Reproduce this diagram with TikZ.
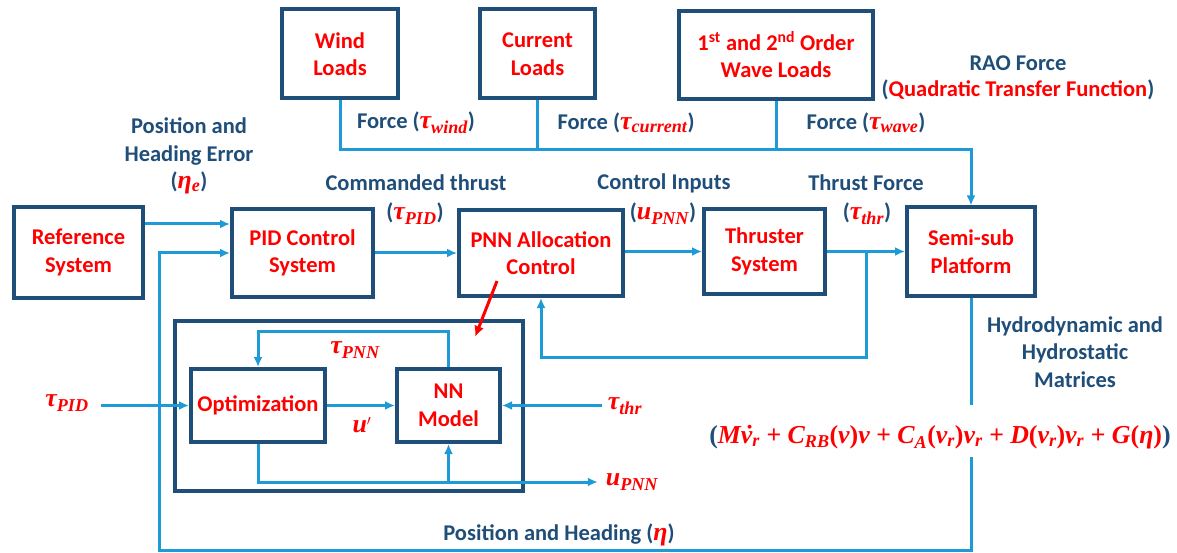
\documentclass[tikz,border=0pt]{standalone}
\usepackage{fontspec}
\setmainfont{Carlito}
\newfontfamily\mfont{Liberation Serif}[Scale=1.15]
\usetikzlibrary{arrows.meta,calc}
\definecolor{dkblue}{RGB}{31,78,121}
\definecolor{ltblue}{RGB}{30,155,215}
\definecolor{rd}{RGB}{255,0,0}
\newcommand{\redt}[1]{\textcolor{rd}{#1}}
\newcommand{\mvar}[1]{{\mfont\bfseries\itshape #1}}
\newcommand{\msub}[2]{{\mfont\bfseries\itshape #1\textsubscript{#2}}}
\newcommand{\Lpar}{{\mfont\bfseries\upshape(}}
\newcommand{\Rpar}{{\mfont\bfseries\upshape)}}
\newcommand{\dnu}{\ooalign{ν\cr\hidewidth\kern0.12em˙\hidewidth\cr}}
\begin{document}
\begin{tikzpicture}[x=1pt,y=-1pt,
  every node/.style={font=\fontsize{22.5}{27.5}\selectfont\bfseries},
  box/.style={draw=dkblue, line width=4pt, text=rd, align=center, inner sep=0pt},
  lbl/.style={text=dkblue, align=center, inner sep=0pt},
  mth/.style={text=rd, inner sep=0pt},
  ln/.style={draw=ltblue, line width=3pt},
  arr/.style={ln, -{Latex[length=10pt,width=9pt]}},
  redarr/.style={draw=rd, line width=3pt, -{Latex[length=11pt,width=10pt]}}
]
\useasboundingbox (0,0) rectangle (1177,553);

% top boxes
\node[box, minimum width=116pt, minimum height=89pt] (wind) at (340,54) {Wind\\Loads};
\node[box, minimum width=115pt, minimum height=89pt] (current) at (537.5,54) {Current\\Loads};
\node[box, minimum width=194pt, minimum height=88pt] (wave) at (776,55) {1\textsuperscript{st} and 2\textsuperscript{nd} Order\\Wave Loads};

% main row
\node[box, minimum width=129pt, minimum height=91pt] (ref) at (78.5,252.5) {Reference\\System};
\node[box, minimum width=141pt, minimum height=88pt] (pid) at (302.5,253) {PID Control\\System};
\node[box, minimum width=164pt, minimum height=86pt] (pnn) at (541,253) {PNN Allocation\\Control};
\node[box, minimum width=121pt, minimum height=85pt] (thr) at (764.5,251.5) {Thruster\\System};
\node[box, minimum width=128pt, minimum height=88pt] (semi) at (971,251.5) {Semi-sub\\Platform};

% inner block
\node[box, minimum width=348pt, minimum height=170pt] (inner) at (349,406) {};
\node[box, minimum width=134pt, minimum height=73pt] (opt) at (258,405.5) {Optimization};
\node[box, minimum width=103pt, minimum height=73pt] (nn) at (448.5,405.5) {NN\\Model};

% labels
\node[lbl] (fwind) at (416,123) {Force (\redt{\msub{τ}{wind}})};
\node[lbl] (fcur) at (626,123) {Force (\redt{\msub{τ}{current}})};
\node[lbl] (fwave) at (866,123) {Force (\redt{\msub{τ}{wave}})};
\node[lbl] (rao) at (1018,63) {RAO Force};
\node[lbl] (qtf) at (1018,90) {(\redt{Quadratic Transfer Function})};
\node[lbl] (phe) at (189,156) {Position and\\Heading Error\\(\redt{\msub{η}{e}})};
\node[lbl] (cmd) at (416,183) {Commanded thrust};
\node[lbl] (cmdm) at (415,214) {(\redt{\msub{τ}{PID}})};
\node[lbl] (ci) at (664,183) {Control Inputs};
\node[lbl] (cim) at (663,214) {(\redt{\msub{u}{PNN}})};
\node[lbl] (tf) at (866,183) {Thrust Force};
\node[lbl] (tfm) at (867,214) {(\redt{\msub{τ}{thr}})};
\node[lbl] (hyd) at (1075,352) {Hydrodynamic and\\Hydrostatic\\Matrices};
\node[lbl] (eq) at (940,437) {\Lpar\redt{\mvar{M\dnu\textsubscript{r} + C\textsubscript{RB}\Lpar ν\Rpar ν + C\textsubscript{A}\Lpar ν\textsubscript{r}\Rpar ν\textsubscript{r} + D\Lpar ν\textsubscript{r}\Rpar ν\textsubscript{r} + G\Lpar η\Rpar}}\Rpar};
\node[lbl] (ph) at (559,535) {Position and Heading (\redt{\mvar{η}})};
\node[mth] (tpnn) at (355,350) {\msub{τ}{PNN}};
\node[mth] (up) at (362,425) {\mvar{u$'$}};
\node[mth] (tpid2) at (67,403) {\msub{τ}{PID}};
\node[mth] (tthr2) at (625,406) {\msub{τ}{thr}};
\node[mth] (upnn) at (632,482) {\msub{u}{PNN}};

% coordinates
\coordinate (fr) at (971,150);
\coordinate (rowA) at (0,224);
\coordinate (gapT) at (0,405);
\coordinate (gapB) at (0,457);
\coordinate (fbx) at (159,550);
\coordinate (tj) at (866,0);
\coordinate (tb) at (0,357);
\coordinate (lp) at (0,331);
\coordinate (ra) at (497,281);
\coordinate (rb) at (475,337);

% force lines
\draw[arr] (wind.south) |- (fr) -- (semi.north);
\draw[ln] (current.south) -- (current.south |- fr);
\draw[ln] (wave.south) -- (wave.south |- fr);

% main row connectors
\draw[arr] (ref.east |- rowA) -- (pid.west |- rowA);
\draw[arr] (pid.east) -- (pnn.west);
\draw[arr] (pnn.east |- thr.west) -- (thr.west);
\draw[arr] (thr.east) -- (semi.west);
\draw[arr] (thr.east -| tj) -- (tj |- tb) -| (pnn.south);

% platform feedback
\draw[ln] (semi.south) -- (semi.south |- gapT);
\draw[arr] (semi.south |- gapB) -- (semi.south |- fbx) -- (fbx) |- (pid.west);

% inner connectors
\draw[arr] (opt.east) -- (nn.west);
\draw[arr] (nn.north) -- (nn.north |- lp) -| (opt.north);
\draw[arr] (opt.south) |- ([xshift=-8pt]upnn.west);
\draw[arr] (nn.south |- upnn.west) -- (nn.south);
\draw[arr] ([xshift=-6pt]tthr2.west |- nn.east) -- (nn.east);
\draw[arr] ([xshift=12pt]tpid2.east |- opt.west) -- (opt.west);

% red pointer
\draw[redarr] (ra) -- (rb);
\end{tikzpicture}
\end{document}
